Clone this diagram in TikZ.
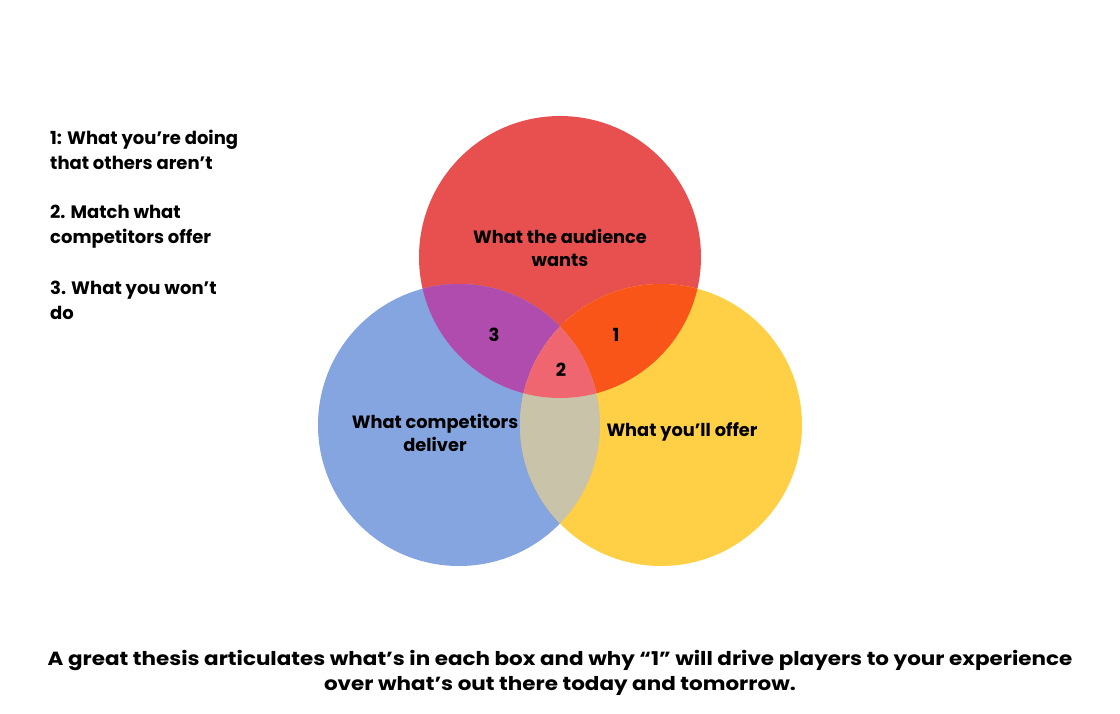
\documentclass[tikz,border=0pt]{standalone}
\usepackage{fontspec}
\setmainfont{Poppins}
\usetikzlibrary{positioning}

\definecolor{wantred}{HTML}{E85050}
\definecolor{delivblue}{HTML}{85A5E0}
\definecolor{offeryellow}{HTML}{FFD045}
\definecolor{wonpurple}{HTML}{B04CAD}
\definecolor{uniqorange}{HTML}{F95518}
\definecolor{matchpink}{HTML}{EF6670}
\definecolor{sharedbeige}{HTML}{C8C3A9}

\begin{document}
\begin{tikzpicture}[
  x=1pt, y=-1pt,
  lbl/.style={font=\fontsize{17.8}{23}\selectfont\bfseries, align=center, inner sep=0pt},
  num/.style={font=\fontsize{18}{22}\selectfont\bfseries, inner sep=0pt},
  note/.style={font=\fontsize{18}{25}\selectfont\bfseries, align=left, anchor=base west, inner sep=0pt},
  footer/.style={font=\fontsize{19}{25}\selectfont\bfseries, align=center, inner sep=0pt}
]
\useasboundingbox (0,0) rectangle (1120,713);
\coordinate (cwant) at (560,257);
\coordinate (cdeliv) at (459,425);
\coordinate (coffer) at (661,425);
\def\rad{141pt}

% the three sets
\fill[wantred] (cwant) circle (\rad);
\fill[delivblue] (cdeliv) circle (\rad);
\fill[offeryellow] (coffer) circle (\rad);
% overlaps
\begin{scope}
  \clip (cwant) circle (\rad);
  \fill[wonpurple] (cdeliv) circle (\rad);
  \fill[uniqorange] (coffer) circle (\rad);
\end{scope}
\begin{scope}
  \clip (cdeliv) circle (\rad);
  \fill[sharedbeige] (coffer) circle (\rad);
\end{scope}
\begin{scope}
  \clip (cwant) circle (\rad);
  \clip (cdeliv) circle (\rad);
  \fill[matchpink] (coffer) circle (\rad);
\end{scope}

\node[lbl] (want) at (560,248) {What the audience\\wants};
\node[lbl] (deliv) at (435,433) {What competitors\\deliver};
\node[lbl] (offer) at (682,432) {What you’ll offer};
\node[num] (three) at (494,335) {3};
\node[num] (one) at (616,335) {1};
\node[num] (two) at (561,370) {2};

\node[note] (noteone) at (50,169) {1: What you’re doing\\that others aren’t};
\node[note] (notetwo) at (50,243) {2. Match what\\competitors offer};
\node[note] (notethree) at (50,319) {3. What you won’t\\do};

\node[footer] (thesis) at (560,673) {\scalebox{1.13}[1]{A great thesis articulates what’s in each box and why “1” will drive players to your experience}\\
  \scalebox{1.13}[1]{over what’s out there today and tomorrow.}};
\end{tikzpicture}
\end{document}
